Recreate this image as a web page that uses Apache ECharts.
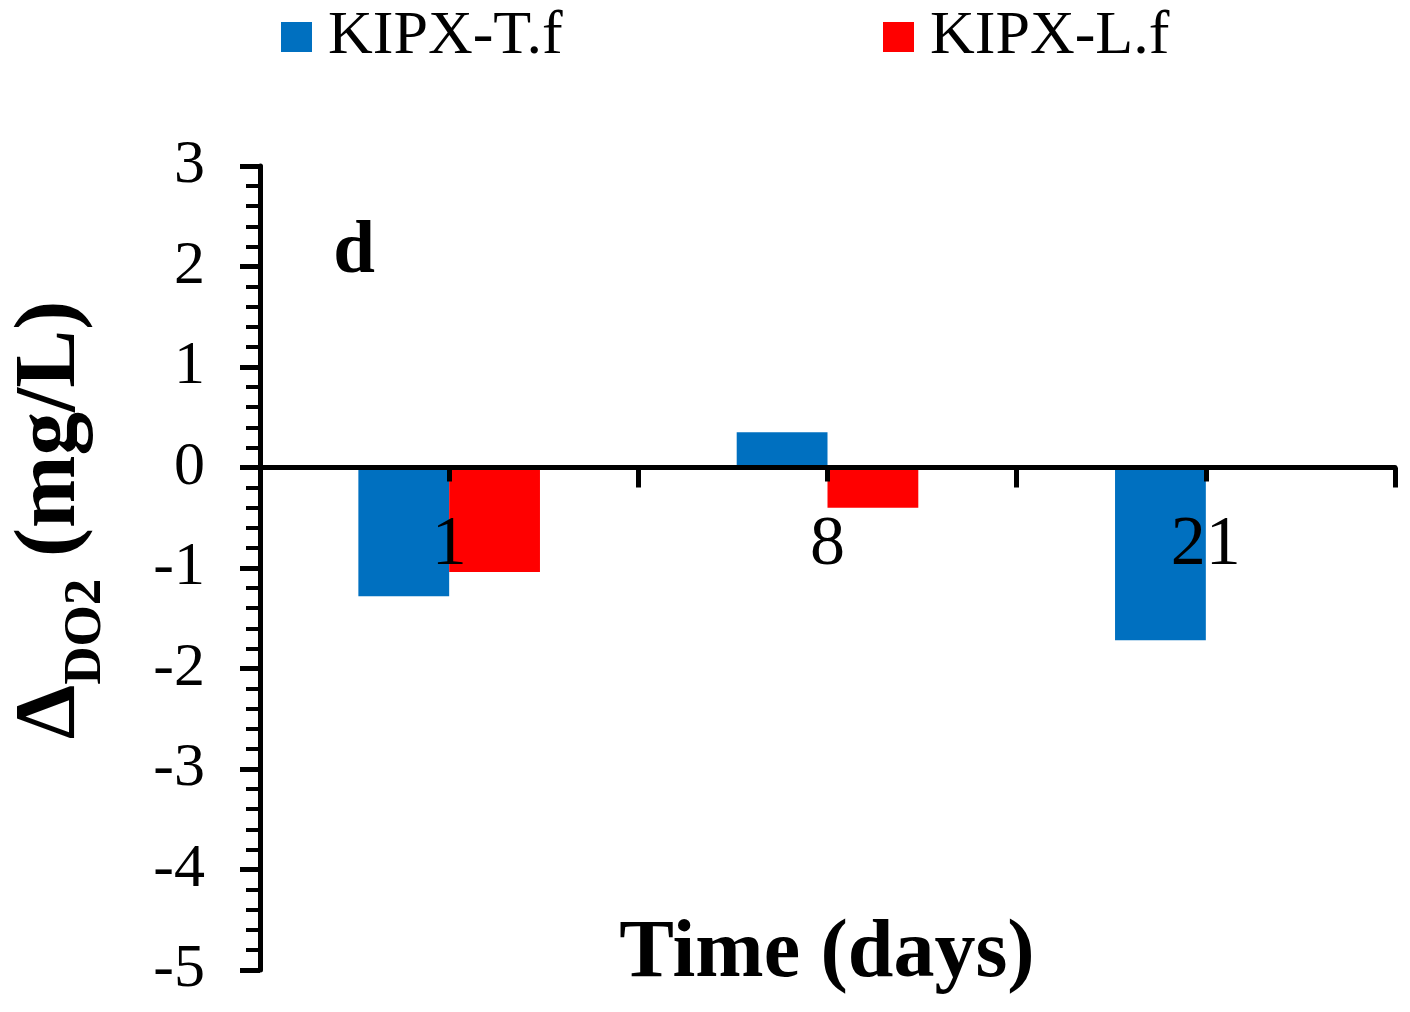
<!DOCTYPE html>
<html>
<head>
<meta charset="utf-8">
<script src="https://cdn.jsdelivr.net/npm/echarts@6/dist/echarts.min.js"></script>
<style>
html,body{margin:0;padding:0;background:#fff;}
#chart{width:1410px;height:1012px;}
</style>
</head>
<body>
<div id="chart"></div>
<script>
const days = ['1', '8', '21'];
const kipxT = [-1.28, 0.35, -1.72];
const kipxL = [-1.04, -0.40, 0];
const seriesNames = ['KIPX-T.f', 'KIPX-L.f'];
const yMin = -5, yMax = 3, yStep = 1;

const FONT = '"Liberation Serif", "Times New Roman", serif';
const gridTop = 166, gridBottom = 42, H = 1012;
const gridHeight = H - gridTop - gridBottom;
// shift the category axis up from the grid bottom to the y = 0 level
const zeroOffset = -gridHeight * (0 - yMin) / (yMax - yMin);

const chart = echarts.init(document.getElementById('chart'));
const legendText = {fontFamily: FONT, fontSize: 62, color: '#000', padding: [0, 0, 0, 11]};

chart.setOption({
  animation: false,
  backgroundColor: '#fff',
  grid: {left: 260, right: 15, top: gridTop, bottom: gridBottom, containLabel: false, outerBoundsMode: 'none'},
  legend: [
    {data: [seriesNames[0]], left: 281, top: 6, padding: 0, itemWidth: 31, itemHeight: 30, icon: 'rect', textStyle: legendText},
    {data: [seriesNames[1]], left: 883, top: 6, padding: 0, itemWidth: 31, itemHeight: 30, icon: 'rect', textStyle: legendText}
  ],
  xAxis: [
    {
      type: 'category', data: days, z: 5, position: 'bottom', offset: zeroOffset,
      axisLine: {onZero: false, lineStyle: {color: '#000', width: 5}},
      axisTick: {show: true, alignWithLabel: false, length: 20, lineStyle: {color: '#000', width: 5}},
      axisLabel: {fontFamily: FONT, fontSize: 70, color: '#000', margin: 43},
      splitLine: {show: false}
    },
    {
      type: 'category', data: days, z: 5, position: 'bottom', offset: zeroOffset,
      axisLine: {show: false, onZero: false},
      axisTick: {show: true, alignWithLabel: true, length: 14, lineStyle: {color: '#000', width: 5}},
      axisLabel: {show: false},
      splitLine: {show: false}
    }
  ],
  yAxis: {
    type: 'value', min: yMin, max: yMax, interval: yStep, z: 5,
    axisLine: {show: true, lineStyle: {color: '#000', width: 5}},
    axisTick: {show: true, length: 20, lineStyle: {color: '#000', width: 5}},
    minorTick: {show: true, splitNumber: 5, length: 14, lineStyle: {color: '#000', width: 4}},
    axisLabel: {fontFamily: FONT, fontSize: 62, color: '#000', margin: 55},
    splitLine: {show: false}
  },
  series: [
    {name: seriesNames[0], type: 'bar', data: kipxT, barWidth: '24%', barGap: '0%', itemStyle: {color: '#0070C0'}},
    {name: seriesNames[1], type: 'bar', data: kipxL, barWidth: '24%', barGap: '0%', itemStyle: {color: '#FF0000'}}
  ],
  graphic: [
    {type: 'text', x: 354, y: 253, z: 10, style: {text: 'd', fontFamily: FONT, fontSize: 75, fontWeight: 'bold', fill: '#000', align: 'center', verticalAlign: 'middle'}},
    {type: 'text', x: 827, y: 955, z: 10, style: {text: 'Time (days)', fontFamily: FONT, fontSize: 82, fontWeight: 'bold', fill: '#000', align: 'center', verticalAlign: 'middle'}},
    {type: 'text', x: 56, y: 520, rotation: Math.PI / 2, z: 10, style: {
      text: '{m|Δ}{s|DO2}{m| (mg/L)}', align: 'center', verticalAlign: 'middle', fill: '#000',
      rich: {
        m: {fontFamily: FONT, fontSize: 87, fontWeight: 'bold', lineHeight: 95, verticalAlign: 'top', fill: '#000'},
        s: {fontFamily: FONT, fontSize: 53, fontWeight: 'bold', lineHeight: 53, padding: [51, 0, 0, 0], verticalAlign: 'top', fill: '#000'}
      }
    }}
  ]
});
</script>
</body>
</html>
